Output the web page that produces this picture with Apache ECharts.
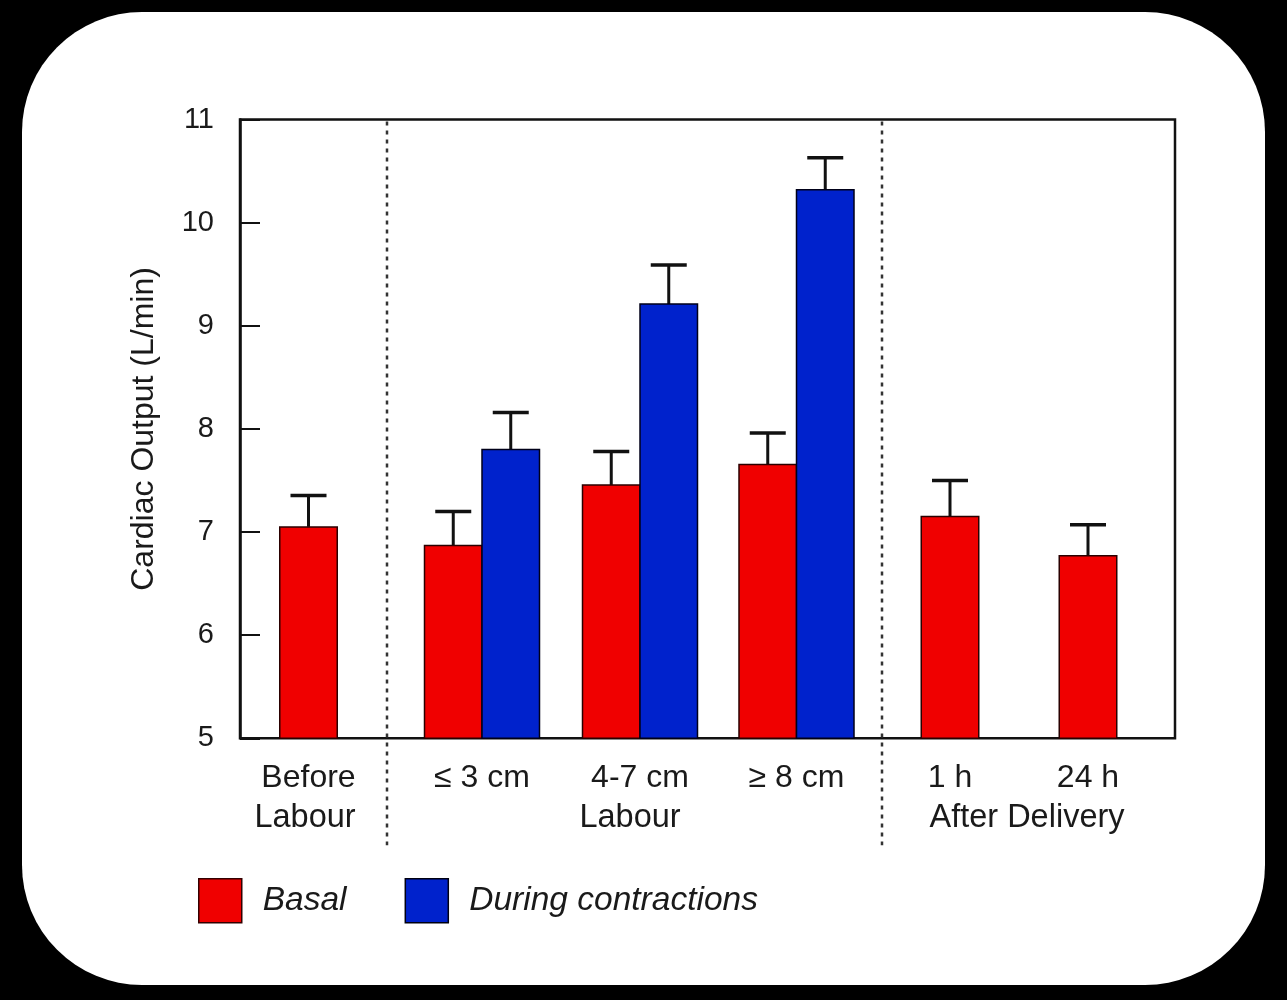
<!DOCTYPE html>
<html>
<head>
<meta charset="utf-8">
<script src="https://cdn.jsdelivr.net/npm/echarts@6/dist/echarts.min.js"></script>
<style>
  html, body { margin: 0; padding: 0; background: #000; }
  #card { position: absolute; left: 22px; top: 12px; width: 1243px; height: 973px; background: #fff; border-radius: 120px; }
  #chart { position: absolute; left: 0; top: 0; width: 1287px; height: 1000px; }
</style>
</head>
<body>
<div id="card"></div>
<div id="chart"></div>
<script>
// ---- data ----
const tickLabels = ['Before', '≤ 3 cm', '4-7 cm', '≥ 8 cm', '1 h', '24 h'];
const groupLabels = ['Labour', 'Labour', 'After Delivery'];
const basal = [7.05, 6.87, 7.455, 7.655, 7.15, 6.77];
const basalUpper = [7.355, 7.20, 7.78, 7.96, 7.50, 7.07];
const contractions = [null, 7.80, 9.21, 10.32, null, null];
const contractionsUpper = [null, 8.16, 9.59, 10.63, null, null];
const yTicks = [5, 6, 7, 8, 9, 10, 11];

// ---- layout (x axis units, not data) ----
const groupCenters = [0.685, 2.42, 4.00, 5.565, 7.10, 8.48];
const groupLabelPos = [0.65, 3.90, 7.87];
const dividers = [1.47, 6.42];
const barW = 0.575;
const capW = 0.36;
const xMax = 9.35;

const RED = '#f00000', BLUE = '#0022cc';
const FONT = '"Liberation Sans", Arial, Helvetica, sans-serif';

const chart = echarts.init(document.getElementById('chart'), null, { renderer: 'canvas' });

function barRender(color, border) {
  return function (params, api) {
    const x = api.value(0), v = api.value(1), up = api.value(2);
    if (v == null || isNaN(v)) return null;
    const tl = api.coord([x - barW / 2, v]);
    const br = api.coord([x + barW / 2, yTicks[0]]);
    const b = api.coord([x, v]);
    const t = api.coord([x, up]);
    const cl = api.coord([x - capW / 2, up]);
    const cr = api.coord([x + capW / 2, up]);
    return {
      type: 'group',
      children: [
        { type: 'line', shape: { x1: b[0], y1: b[1], x2: t[0], y2: t[1] }, style: { stroke: '#111', lineWidth: 3 } },
        { type: 'line', shape: { x1: cl[0], y1: cl[1], x2: cr[0], y2: cr[1] }, style: { stroke: '#111', lineWidth: 3.5 } },
        { type: 'rect', shape: { x: tl[0], y: tl[1], width: br[0] - tl[0], height: br[1] - tl[1] }, style: { fill: color, stroke: border, lineWidth: 1.5 } }
      ]
    };
  };
}

const basalData = basal.map((v, i) => [groupCenters[i] + (contractions[i] != null ? -barW / 2 : 0), v, basalUpper[i]]);
const contrData = contractions.map((v, i) => v == null ? [groupCenters[i], null, null] : [groupCenters[i] + barW / 2, v, contractionsUpper[i]]);

const option = {
  animation: false,
  backgroundColor: 'transparent',
  grid: { left: 240, right: 112, top: 119.5, bottom: 261.7, show: true, borderColor: '#111', borderWidth: 2.5, backgroundColor: 'transparent' },
  xAxis: {
    type: 'value', min: 0, max: xMax,
    axisLine: { show: false }, axisTick: { show: false }, axisLabel: { show: false }, splitLine: { show: false }
  },
  yAxis: {
    type: 'value', min: yTicks[0], max: yTicks[yTicks.length - 1], interval: 1,
    name: 'Cardiac Output (L/min)', nameLocation: 'middle', nameRotate: 90, nameGap: 80,
    nameTextStyle: { fontSize: 32, color: '#1a1a1a', fontFamily: FONT },
    axisLine: { show: true, lineStyle: { color: '#111', width: 2.5 } },
    axisTick: { show: true, inside: true, length: 20, lineStyle: { color: '#111', width: 2 } },
    axisLabel: { fontSize: 29, color: '#1a1a1a', fontFamily: FONT, margin: 26 },
    splitLine: { show: false }
  },
  legend: {
    left: 198, top: 878, padding: 0, itemWidth: 43, itemHeight: 44, itemGap: 58,
    icon: 'rect',
    textStyle: { fontSize: 33.5, fontStyle: 'italic', color: '#1a1a1a', fontFamily: FONT, padding: [0, 0, 0, 16] },
    data: [
      { name: 'Basal', itemStyle: { color: RED, borderColor: '#300', borderWidth: 1.5 } },
      { name: 'During contractions', itemStyle: { color: BLUE, borderColor: '#001', borderWidth: 1.5 } }
    ]
  },
  series: [
    {
      type: 'custom', name: 'Dividers', clip: false, silent: true,
      data: dividers.map(d => [d]),
      renderItem: function (params, api) {
        const top = api.coord([api.value(0), yTicks[yTicks.length - 1]]);
        const bot = api.coord([api.value(0), yTicks[0]]);
        return { type: 'line', shape: { x1: top[0], y1: top[1] + 2, x2: bot[0], y2: bot[1] + 107 }, style: { stroke: '#333', lineWidth: 2.5, lineDash: [4, 5] } };
      }
    },
    { type: 'custom', name: 'Basal', clip: false, itemStyle: { color: RED }, data: basalData, renderItem: barRender(RED, '#2a0000') },
    { type: 'custom', name: 'During contractions', clip: false, itemStyle: { color: BLUE }, data: contrData, renderItem: barRender(BLUE, '#000018') },
    {
      type: 'custom', name: 'TickLabels', clip: false, silent: true,
      data: groupCenters.map(c => [c]),
      renderItem: function (params, api) {
        const p = api.coord([api.value(0), yTicks[0]]);
        return { type: 'text', x: p[0], y: p[1] + 40, style: { text: tickLabels[params.dataIndex], fill: '#1a1a1a', fontSize: 32, fontFamily: FONT, align: 'center', verticalAlign: 'middle' } };
      }
    },
    {
      type: 'custom', name: 'GroupLabels', clip: false, silent: true,
      data: groupLabelPos.map(c => [c]),
      renderItem: function (params, api) {
        const p = api.coord([api.value(0), yTicks[0]]);
        return { type: 'text', x: p[0], y: p[1] + 80, style: { text: groupLabels[params.dataIndex], fill: '#1a1a1a', fontSize: 32.5, fontFamily: FONT, align: 'center', verticalAlign: 'middle' } };
      }
    }
  ]
};
chart.setOption(option);
</script>
</body>
</html>
